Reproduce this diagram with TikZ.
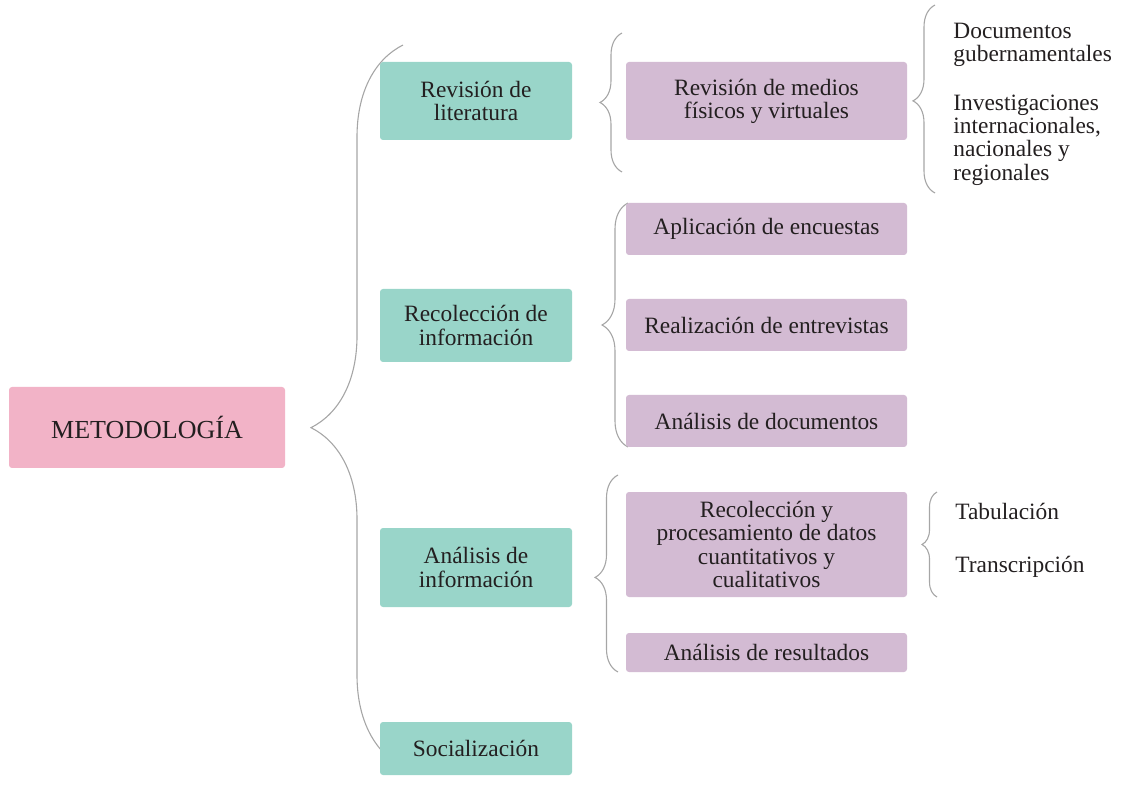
\documentclass[tikz,border=0pt]{standalone}
\usepackage{fontspec}
\setmainfont{Liberation Serif}
\usetikzlibrary{calc}
\usetikzlibrary{decorations.pathreplacing}

\definecolor{rosa}{HTML}{F2B3C7}
\definecolor{verde}{HTML}{99D5C9}
\definecolor{lila}{HTML}{D3BBD3}
\definecolor{tinta}{HTML}{231F20}

\tikzset{
	caja/.style={rounded corners=1.5pt, inner sep=2pt, align=center, text=tinta,
		font=\fontsize{11.7}{11.6}\selectfont},
	fase/.style={caja, fill=verde, minimum width=96pt},
	tarea/.style={caja, fill=lila, minimum width=140.5pt},
	nota/.style={anchor=west, align=left, inner sep=0pt, text=tinta,
		font=\fontsize{11.7}{11.6}\selectfont},
	llave/.style={draw=gray!70, line width=0.55pt, decorate,
		decoration={brace, amplitude=#1}}
}

\begin{document}
\begin{tikzpicture}[x=0.5pt, y=-0.5pt]
			\useasboundingbox (0, 0) rectangle (1123, 790);

			% llaves
			\draw[llave=46pt, decoration={aspect=0.47}] (403, 767)--(403, 45);
			\draw[llave=11pt] (622, 172)--(622, 33);
			\draw[llave=11pt, decoration={aspect=0.49}] (935, 193)--(935, 5);
			\draw[llave=13pt] (628, 447)--(628, 203);
			\draw[llave=11.5pt, decoration={aspect=0.48}] (618, 672)--(618, 475);
			\draw[llave=7.5pt] (937, 597)--(937, 492);

			\node[caja, fill=rosa, minimum width=138pt, minimum height=40.5pt,
				font=\fontsize{13}{14}\selectfont] (meto) at (147, 427.5) {METODOLOGÍA};

			\node[fase, minimum height=39pt] (lit) at (476, 101) {Revisión de\\literatura};
			\node[fase, minimum height=36.5pt] (rec) at (476, 325.5) {Recolección de\\información};
			\node[fase, minimum height=39.5pt] (ana) at (476, 567.5) {Análisis de\\información};
			\node[fase, minimum height=26.5pt] (soc) at (476, 748.5) {Socialización};

			\node[tarea, minimum height=39pt] (medios) at (766.5, 101) {Revisión de medios\\físicos y virtuales};
			\node[tarea, minimum height=26pt] (enc) at (766.5, 229) {Aplicación de encuestas};
			\node[tarea, minimum height=26pt] (ent) at (766.5, 325) {Realización de entrevistas};
			\node[tarea, minimum height=26pt] (doc) at (766.5, 421) {Análisis de documentos};
			\node[tarea, minimum height=52.5pt] (proc) at (766.5, 544.5) {Recolección y\\procesamiento de datos\\cuantitativos y\\cualitativos};
			\node[tarea, minimum height=19.5pt] (res) at (766.5, 652.5) {Análisis de resultados};

			\node[nota] (gub) at (953, 45) {Documentos\\gubernamentales};
			\node[nota] (inv) at (953, 140) {Investigaciones\\internacionales,\\nacionales y\\regionales};
			\node[nota] (tab) at (955, 511) {Tabulación};
			\node[nota] (tra) at (955, 567) {Transcripción};
		\end{tikzpicture}
\end{document}
